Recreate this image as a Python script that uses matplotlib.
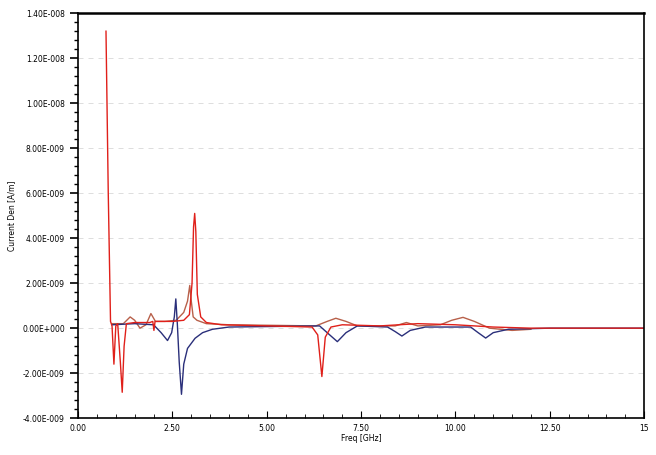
import numpy as np
import matplotlib.pyplot as plt
from matplotlib.ticker import MultipleLocator, FixedLocator

# values, frequency in GHz, value in units of 1e-9
red_f = [0.74, 0.80, 0.86, 0.90, 0.95, 1.00, 1.05, 1.12, 1.17, 1.22, 1.28, 1.50, 1.90, 1.98, 2.01,
         2.04, 2.50, 2.80, 2.95, 3.02, 3.06, 3.09, 3.12, 3.16, 3.25, 3.40, 3.80, 5.00, 6.20, 6.35,
         6.46, 6.55, 6.70, 7.00, 8.00, 9.00, 10.00, 11.00, 12.00, 15.00]
red_v = [13.2, 6.0, 0.3, 0.1, -1.6, 0.1, 0.2, -1.5, -2.85, -0.8, 0.2, 0.25, 0.25, 0.3, -0.1,
         0.3, 0.3, 0.35, 0.6, 2.0, 4.5, 5.1, 4.3, 1.5, 0.5, 0.25, 0.15, 0.1, 0.05, -0.3,
         -2.15, -0.4, 0.05, 0.15, 0.1, 0.2, 0.15, 0.05, 0.0, 0.0]

brown_f = [0.90, 1.20, 1.38, 1.50, 1.64, 1.80, 1.93, 2.05, 2.30, 2.60, 2.80, 2.90, 2.96, 3.00,
           3.05, 3.15, 3.40, 4.00, 6.30, 6.60, 6.83, 7.10, 7.40, 8.40, 8.70, 9.00, 9.60, 9.90,
           10.20, 10.50, 10.90, 11.50, 12.00]
brown_v = [0.2, 0.2, 0.5, 0.35, 0.0, 0.15, 0.65, 0.3, 0.3, 0.35, 0.7, 1.2, 1.9, 1.2,
           0.5, 0.35, 0.2, 0.15, 0.1, 0.3, 0.44, 0.3, 0.1, 0.1, 0.25, 0.1, 0.15, 0.35,
           0.48, 0.3, 0.0, -0.1, -0.05]

blue_f = [0.90, 1.50, 2.00, 2.20, 2.37, 2.48, 2.55, 2.59, 2.63, 2.68, 2.74, 2.80, 2.90, 3.10,
          3.30, 3.56, 4.00, 6.40, 6.60, 6.87, 7.10, 7.40, 8.20, 8.40, 8.58, 8.80, 9.20, 10.40,
          10.60, 10.80, 11.00, 11.40, 12.50, 15.00]
blue_v = [0.15, 0.2, 0.15, -0.2, -0.55, -0.2, 0.5, 1.3, 0.2, -1.5, -2.94, -1.6, -0.9, -0.45,
          -0.2, -0.05, 0.05, 0.1, -0.2, -0.6, -0.2, 0.1, 0.05, -0.15, -0.35, -0.1, 0.05, 0.05,
          -0.2, -0.44, -0.2, -0.05, 0.0, 0.0]

y_ticks = [-4e-9, -2e-9, 0, 2e-9, 4e-9, 6e-9, 8e-9, 1e-8, 1.2e-8, 1.4e-8]
y_labels = ['-4.00E-009', '-2.00E-009', '0.00E+000', '2.00E-009', '4.00E-009', '6.00E-009',
            '8.00E-009', '1.00E-008', '1.20E-008', '1.40E-008']
x_ticks = [0, 2.5, 5, 7.5, 10, 12.5, 15]
x_labels = ['0.00', '2.50', '5.00', '7.50', '10.00', '12.50', '15']

fig = plt.figure(figsize=(6.56, 4.55), dpi=100)
ax = fig.add_axes([0.119, 0.081, 0.863, 0.89])

for y in y_ticks:
    ax.axhline(y, color='#d8d8d8', lw=0.6, ls=(0, (6, 6)), zorder=0)

ax.plot(brown_f, np.array(brown_v) * 1e-9, color='#b8604a', lw=1.0)
ax.plot(blue_f, np.array(blue_v) * 1e-9, color='#2a2f7a', lw=1.0)
ax.plot(red_f, np.array(red_v) * 1e-9, color='#e0201a', lw=1.0)

ax.set_xlim(0, 15)
ax.set_ylim(-4e-9, 1.4e-8)
ax.xaxis.set_major_locator(FixedLocator(x_ticks))
ax.set_xticklabels(x_labels)
ax.yaxis.set_major_locator(FixedLocator(y_ticks))
ax.set_yticklabels(y_labels)
ax.xaxis.set_minor_locator(MultipleLocator(0.5))
ax.yaxis.set_minor_locator(MultipleLocator(4e-10))
ax.tick_params(axis='x', which='both', direction='in', labelsize=5.5, pad=4)
ax.tick_params(axis='x', which='major', length=5)
ax.tick_params(axis='x', which='minor', length=3)
ax.tick_params(axis='y', which='both', direction='out', labelsize=5.5)
ax.tick_params(axis='y', which='major', length=6, width=1.2)
ax.tick_params(axis='y', which='minor', length=3, width=1.0)
for s in ax.spines.values():
    s.set_linewidth(1.2)
ax.spines['top'].set_linewidth(1.8)

ax.set_xlabel('Freq [GHz]', fontsize=5.5, labelpad=1)
ax.set_ylabel('Current Den [A/m]', fontsize=5.5, labelpad=4)

fig.savefig('out.png', dpi=100)
